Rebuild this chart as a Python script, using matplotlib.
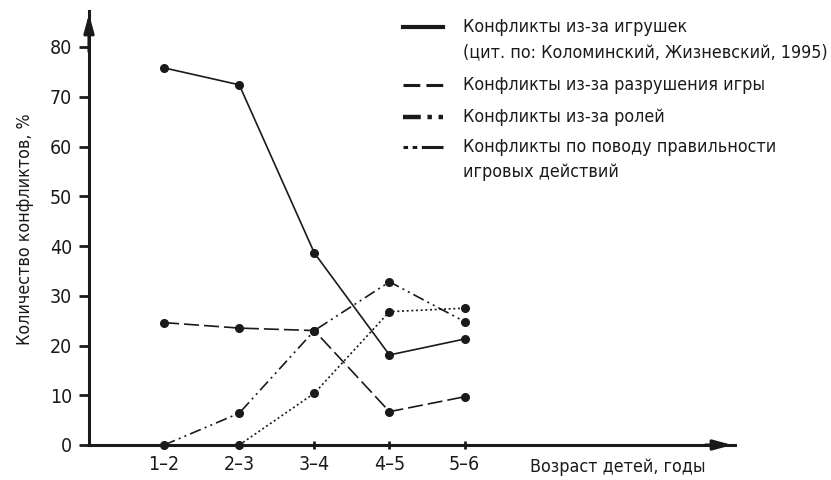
import matplotlib
matplotlib.use("Agg")
import matplotlib.pyplot as plt
from matplotlib.lines import Line2D

plt.rcParams['font.family'] = ['DejaVu Sans']
plt.rcParams['font.stretch'] = 'condensed'

categories = ["1–2", "2–3", "3–4", "4–5", "5–6"]
toys = [75.8, 72.4, 38.6, 18.1, 21.3]
destruction = [24.6, 23.5, 23.0, 6.7, 9.7]
roles = [0.0, 6.4, 23.0, 32.8, 24.8]
rules_cats = ["2–3", "3–4", "4–5", "5–6"]
rules = [0.0, 10.4, 26.8, 27.5]
yticks = [0, 10, 20, 30, 40, 50, 60, 70, 80]

labels = ["Конфликты из-за игрушек\n(цит. по: Коломинский, Жизневский, 1995)",
          "Конфликты из-за разрушения игры",
          "Конфликты из-за ролей",
          "Конфликты по поводу правильности\nигровых действий"]
xlabel = "Возраст детей, годы"
ylabel = "Количество конфликтов, %"

FS = 12.8
W, H = 831, 480
fig = plt.figure(figsize=(W/100, H/100), dpi=100)
x0, x1, y0, y1 = 89, 735, 445, 11
ax = fig.add_axes([x0/W, 1-y0/H, (x1-x0)/W, (y0-y1)/H])
ax.set_xlim(0, 8.6)
ax.set_ylim(0, (y0-y1)/4.975)

pos = {c: i+1 for i, c in enumerate(categories)}
xs = [pos[c] for c in categories]
xr = [pos[c] for c in rules_cats]

col = "#1a1a1a"
kw = dict(color=col, marker='o', markersize=5.5, lw=1.2, clip_on=False)
ax.plot(xs, toys, linestyle='-', **kw)
ax.plot(xs, destruction, linestyle=(0, (9, 3)), **kw)
ax.plot(xs, roles, linestyle=(0, (7, 2.5, 1.2, 2.5, 1.2, 2.5)), **kw)
ax.plot(xr, rules, linestyle=(0, (1.2, 1.6)), **kw)

for s in ['top', 'right']:
    ax.spines[s].set_visible(False)
for s in ['left', 'bottom']:
    ax.spines[s].set_linewidth(2.2)
    ax.spines[s].set_color(col)

ax.set_xticks(xs)
ax.set_xticklabels(categories)
ax.set_yticks(yticks)
ax.tick_params(axis='y', length=7, width=2, direction='out', pad=5, labelsize=14, colors=col)
ax.tick_params(axis='x', length=6, width=2, direction='inout', pad=4, labelsize=14, colors=col)

# arrowheads
ax.annotate("", xy=(0, 1.0), xytext=(0, 0.9), xycoords='axes fraction',
            arrowprops=dict(arrowstyle='-|>,head_length=1.1,head_width=0.3', color=col, lw=2.2))
ax.annotate("", xy=(1.0, 0), xytext=(0.95, 0), xycoords='axes fraction',
            arrowprops=dict(arrowstyle='-|>,head_length=1.1,head_width=0.3', color=col, lw=2.2))

fig.text(25/W, 1-229/H, ylabel, rotation=90, ha='center', va='center', fontsize=FS, color=col)
fig.text(530/W, 1-467/H, xlabel, ha='left', va='center', fontsize=FS, color=col)

# legend drawn manually
handle_styles = ['-', (0, (5.5, 2, 5.5, 2)), (0, (4, 1.5, 1, 1.5, 6, 0)), (0, (1.5, 1.5, 1.5, 1.5, 8, 0))]
handle_lw = [3, 2.2, 3.2, 2.2]
hy = [27, 85, 117, 147]
line_gap = 25
for lab, ls, lw, y in zip(labels, handle_styles, handle_lw, hy):
    fig.add_artist(Line2D([403/W, 443/W], [1-y/H, 1-y/H], color=col, lw=lw, linestyle=ls))
    for k, part in enumerate(lab.split("\n")):
        fig.text(463/W, 1-(y+k*line_gap)/H, part, ha='left', va='center', fontsize=FS, color=col)

fig.savefig("out.png", dpi=100)
